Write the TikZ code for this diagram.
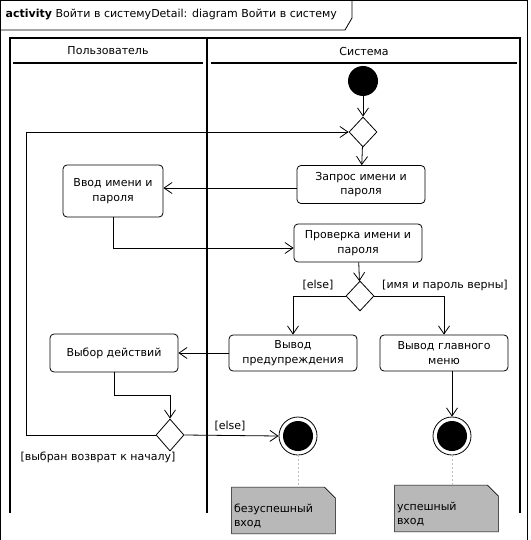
\documentclass[tikz,border=0pt]{standalone}
\usepackage{fontspec}
\setmainfont{DejaVu Sans}
\usetikzlibrary{arrows.meta,shapes.geometric,backgrounds}

\tikzset{
  every node/.style={font=\fontsize{11}{14.5}\selectfont},
  act/.style={draw, rounded corners=4pt, align=center, inner sep=2pt,
    minimum width=128pt, minimum height=38pt},
  choice/.style={draw, diamond, inner sep=0pt, minimum width=28pt, minimum height=30pt},
  flow/.style={-{Straight Barb[length=8pt,width=11pt]}},
  final/.style={draw, circle, minimum size=38pt, inner sep=0pt,
    path picture={\fill (path picture bounding box.center) circle (15pt);}},
  memo/.style={minimum width=103pt, minimum height=46pt, inner sep=0pt},
  memotext/.style={anchor=south west, align=left, inner sep=2pt, yshift=3pt},
  noteline/.style={gray!50, dash pattern=on 2pt off 2pt}
}

\begin{document}
\begin{tikzpicture}[x=1pt, y=-1pt, line width=0.8pt]
  \useasboundingbox (0,0) rectangle (530,540);

  \draw (0,540) -- (0,0.5) -- (527.5,0.5) -- (527.5,540);
  \draw (0,30) -- (345,30) -- (352,18) -- (352,0);
  \node[anchor=west] (title) at (2,15) {\textbf{activity} Войти в системуDetail: diagram Войти в систему};

  \begin{scope}[line width=2.4pt]
    \draw (10,513) -- (10,38) -- (520,38) -- (520,513);
    \draw (207,38) -- (207,513);
  \end{scope}
  \draw[line width=2pt] (13,63) -- (203,63);
  \draw[line width=2pt] (211,63) -- (517,63);
  \node (user) at (108,51) {Пользователь};
  \node (sys) at (364,51) {Система};

  \node[circle, fill, minimum size=30pt] (start) at (363,81) {};
  \node[choice] (ch1) at (363,132) {};
  \node[act] (zapros) at (361,184.5) {Запрос имени и\\пароля};
  \node[act, minimum width=100pt, minimum height=52pt] (vvod) at (113,191) {Ввод имени и\\пароля};
  \node[act] (proverka) at (358,243) {Проверка имени и\\пароля};
  \node[choice] (ch2) at (360,296) {};
  \node[act, minimum height=36pt] (warn) at (293,353) {Вывод\\предупреждения};
  \node[act, minimum height=36pt] (menu) at (444,353) {Вывод главного\\меню};
  \node[act] (choose) at (114,353) {Выбор действий};
  \node[choice, minimum height=32pt] (ch3) at (170,435) {};
  \node[final] (end1) at (298,436) {};
  \node[final] (end2) at (452,436) {};

  \draw[flow] (start) -- (ch1);
  \draw[flow] (ch1) -- (zapros);
  \coordinate (za) at ([yshift=-3.5pt]zapros.west);
  \draw[flow] (za) -- (za -| vvod.east);
  \draw[flow] (vvod.south) |- ([yshift=-5pt]proverka.west);
  \draw[flow] (proverka) -- (ch2);
  \draw[flow] (ch2.west) -| (warn.north);
  \draw[flow] (ch2.east) -| (menu.north);
  \draw[flow] (warn.west) -- (choose.east);
  \draw[flow] (choose.south) -- ++(0,23) -| (ch3.north);
  \draw[flow] (ch3.west) -- ++(-129,0) |- (ch1.west);
  \draw[flow] (ch3.east) -- (end1.west);
  \draw[flow] (end2 |- menu.south) -- (end2.north);

  \node (else1) at (318,285) {[else]};
  \node (ok) at (445,285) {[имя и пароль верны]};
  \node (back) at (98,457) {[выбран возврат к началу]};
  \node (else2) at (230,426) {[else]};

  \node[memo] (n1) at (283.5,510.5) {};
  \node[memo] (n2) at (446.5,508.5) {};
  \node[memotext] (t1) at (n1.south west) {безуспешный\\вход};
  \node[memotext] (t2) at (n2.south west) {успешный\\вход};
  \begin{scope}[on background layer]
    \foreach \n in {n1,n2} {
      \draw[fill=black!28] (\n.south west) -- (\n.north west) -- ([xshift=-11pt]\n.north east)
        -- ([yshift=-11pt]\n.north east) -- (\n.south east) -- cycle;
      \draw ([xshift=-11pt]\n.north east) -- ([yshift=-11pt]\n.north east);
    }
  \end{scope}
  \draw[noteline] (end1.south) -- (end1.south |- n1.north);
  \draw[noteline] (end2.south) -- (end2.south |- n2.north);
\end{tikzpicture}
\end{document}
